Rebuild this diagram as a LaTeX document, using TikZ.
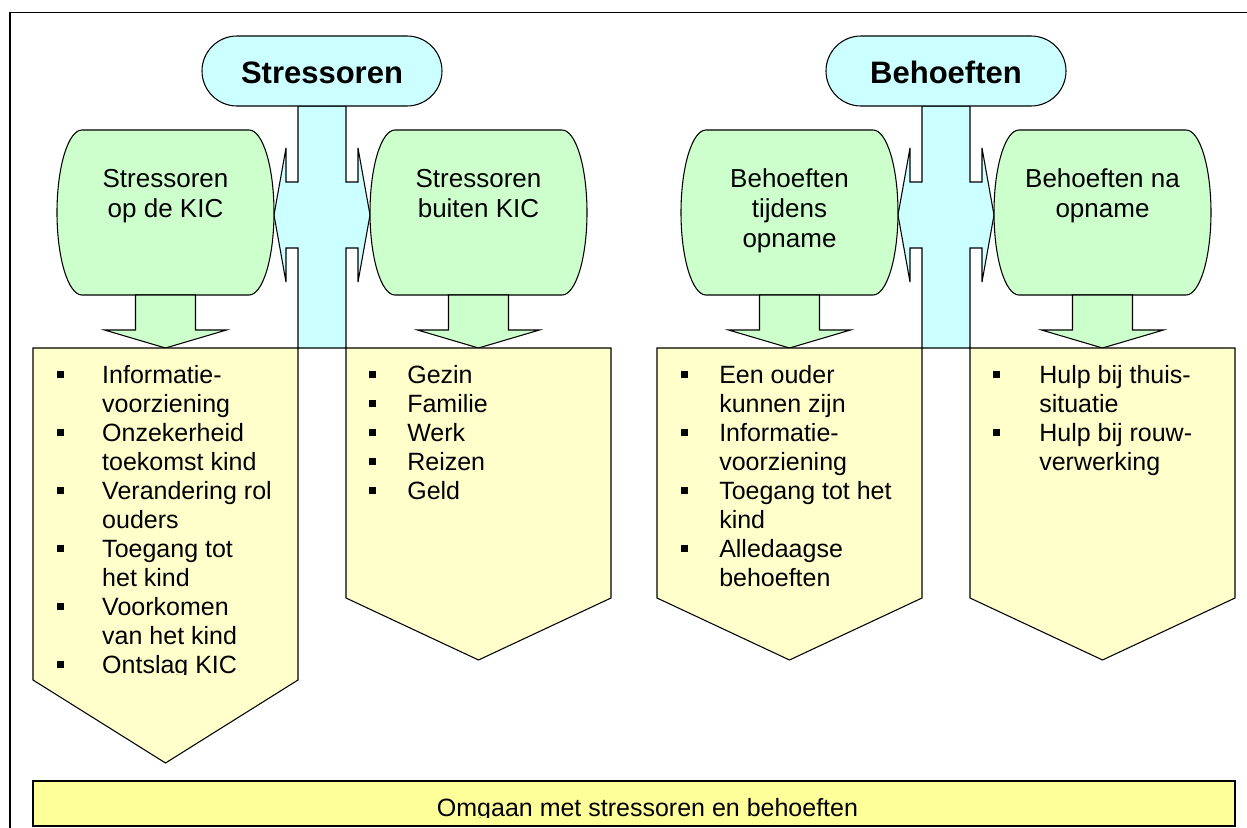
\documentclass[tikz,border=0pt]{standalone}
\usepackage{fontspec}
\setmainfont{Liberation Sans}
\definecolor{cyanc}{HTML}{CCFFFF}
\definecolor{greenc}{HTML}{CCFFCC}
\definecolor{yellowc}{HTML}{FFFFCC}
\definecolor{yellowd}{HTML}{FFFF99}
\newcommand\bsq{\rule[4pt]{5.25pt}{5.25pt}}
\begin{document}
\begin{tikzpicture}[x=0.75pt,y=-0.75pt,
  shapeline/.style={draw=black, line width=0.8pt, line join=miter},
  crossshape/.style={shapeline, fill=cyanc},
  pillshape/.style={shapeline, fill=cyanc, rounded corners=26.25pt},
  greenshape/.style={shapeline, fill=greenc},
  yellowshape/.style={shapeline, fill=yellowc},
  bottomshape/.style={draw=black, line width=1.1pt, fill=yellowd},
  pilltext/.style={anchor=base, inner sep=0pt, font=\fontsize{23.25}{27}\selectfont\bfseries},
  greentext/.style={anchor=base, inner sep=0pt, font=\fontsize{19.5}{22.5}\selectfont},
  listtext/.style={anchor=base west, inner sep=0pt, font=\fontsize{18.75}{21.75}\selectfont},
  bottomtext/.style={anchor=base, inner sep=0pt, font=\fontsize{18.75}{21.75}\selectfont},
]
\useasboundingbox (0,0) rectangle (1247,828);
\fill[white] (0,0) rectangle (1247,828);
\begin{scope}
\clip (0,0) rectangle (1247,828);
% frame
\draw[black, line width=1.1pt] (1260,12.5) -- (10,12.5) -- (10,840);

% crosses
\draw[crossshape] (298,106) -- (298,182) -- (286,182) -- (286,148) -- (274,215) -- (286,282) -- (286,248) -- (298,248) -- (298,348) -- (346,348) -- (346,248) -- (358,248) -- (358,282) -- (370,215) -- (358,148) -- (358,182) -- (346,182) -- (346,106) -- cycle;
\draw[crossshape] (922,106) -- (922,182) -- (910,182) -- (910,148) -- (898,215) -- (910,282) -- (910,248) -- (922,248) -- (922,348) -- (970,348) -- (970,248) -- (982,248) -- (982,282) -- (994,215) -- (982,148) -- (982,182) -- (970,182) -- (970,106) -- cycle;

% pills
\draw[pillshape] (202,36) rectangle (442,106);
\draw[pillshape] (826,36) rectangle (1066,106);
\node[pilltext] (ps) at (322,83) {Stressoren};
\node[pilltext] (pb) at (946,83) {Behoeften};

% green boxes
\draw[greenshape] (82,130) -- (249,130) arc[start angle=90, end angle=-90, x radius=18.75pt, y radius=61.875pt] -- (82,295) arc[start angle=270, end angle=90, x radius=18.75pt, y radius=61.875pt] -- cycle;
\draw[greenshape] (395,130) -- (562,130) arc[start angle=90, end angle=-90, x radius=18.75pt, y radius=61.875pt] -- (395,295) arc[start angle=270, end angle=90, x radius=18.75pt, y radius=61.875pt] -- cycle;
\draw[greenshape] (706,130) -- (873,130) arc[start angle=90, end angle=-90, x radius=18.75pt, y radius=61.875pt] -- (706,295) arc[start angle=270, end angle=90, x radius=18.75pt, y radius=61.875pt] -- cycle;
\draw[greenshape] (1019,130) -- (1186,130) arc[start angle=90, end angle=-90, x radius=18.75pt, y radius=61.875pt] -- (1019,295) arc[start angle=270, end angle=90, x radius=18.75pt, y radius=61.875pt] -- cycle;

\node[greentext] (g1) at (165.5,187) {\begin{tabular}[t]{@{}c@{}}Stressoren\\op de KIC\end{tabular}};
\node[greentext] (g2) at (478.5,187) {\begin{tabular}[t]{@{}c@{}}Stressoren\\buiten KIC\end{tabular}};
\node[greentext] (g3) at (789.5,187) {\begin{tabular}[t]{@{}c@{}}Behoeften\\tijdens\\opname\end{tabular}};
\node[greentext] (g4) at (1102.5,187) {\begin{tabular}[t]{@{}c@{}}Behoeften na\\opname\end{tabular}};

% green arrows
\foreach \c in {165.5,478.5,789.5,1102.5}{
  \draw[greenshape] (\c-30,295) -- (\c+30,295) -- (\c+30,330) -- (\c+61,330) -- (\c,348) -- (\c-61,330) -- (\c-30,330) -- cycle;
}

% yellow boxes
\draw[yellowshape] (33,348) -- (298,348) -- (298,680) -- (165.5,763) -- (33,680) -- cycle;
\draw[yellowshape] (346,348) -- (611,348) -- (611,598) -- (478.5,660) -- (346,598) -- cycle;
\draw[yellowshape] (657,348) -- (922,348) -- (922,598) -- (789.5,660) -- (657,598) -- cycle;
\draw[yellowshape] (970,348) -- (1235,348) -- (1235,598) -- (1102.5,660) -- (970,598) -- cycle;

% lists
\begin{scope}
\clip (0,0) rectangle (1247,674);
\node[listtext] (l1) at (56.5,383) {\begin{tabular}[t]{@{}p{34.1pt}@{}l@{}}
\bsq & Informatie-\\ & voorziening\\
\bsq & Onzekerheid\\ & toekomst kind\\
\bsq & Verandering rol\\ & ouders\\
\bsq & Toegang tot\\ & het kind\\
\bsq & Voorkomen\\ & van het kind\\
\bsq & Ontslag KIC\end{tabular}};
\end{scope}
\node[listtext] (l2) at (368.5,383) {\begin{tabular}[t]{@{}p{28.9pt}@{}l@{}}
\bsq & Gezin\\ \bsq & Familie\\ \bsq & Werk\\ \bsq & Reizen\\ \bsq & Geld\end{tabular}};
\node[listtext] (l3) at (681,383) {\begin{tabular}[t]{@{}p{28.5pt}@{}l@{}}
\bsq & Een ouder\\ & kunnen zijn\\
\bsq & Informatie-\\ & voorziening\\
\bsq & Toegang tot het\\ & kind\\
\bsq & Alledaagse\\ & behoeften\end{tabular}};
\node[listtext] (l4) at (992.5,383) {\begin{tabular}[t]{@{}p{34.9pt}@{}l@{}}
\bsq & Hulp bij thuis-\\ & situatie\\
\bsq & Hulp bij rouw-\\ & verwerking\end{tabular}};

% bottom box
\draw[bottomshape] (33,781) rectangle (1235,826);
\begin{scope}
\clip (33,781) rectangle (1235,817);
\node[bottomtext] (bt) at (647.5,816) {Omgaan met stressoren en behoeften};
\end{scope}
\end{scope}
\end{tikzpicture}
\end{document}
